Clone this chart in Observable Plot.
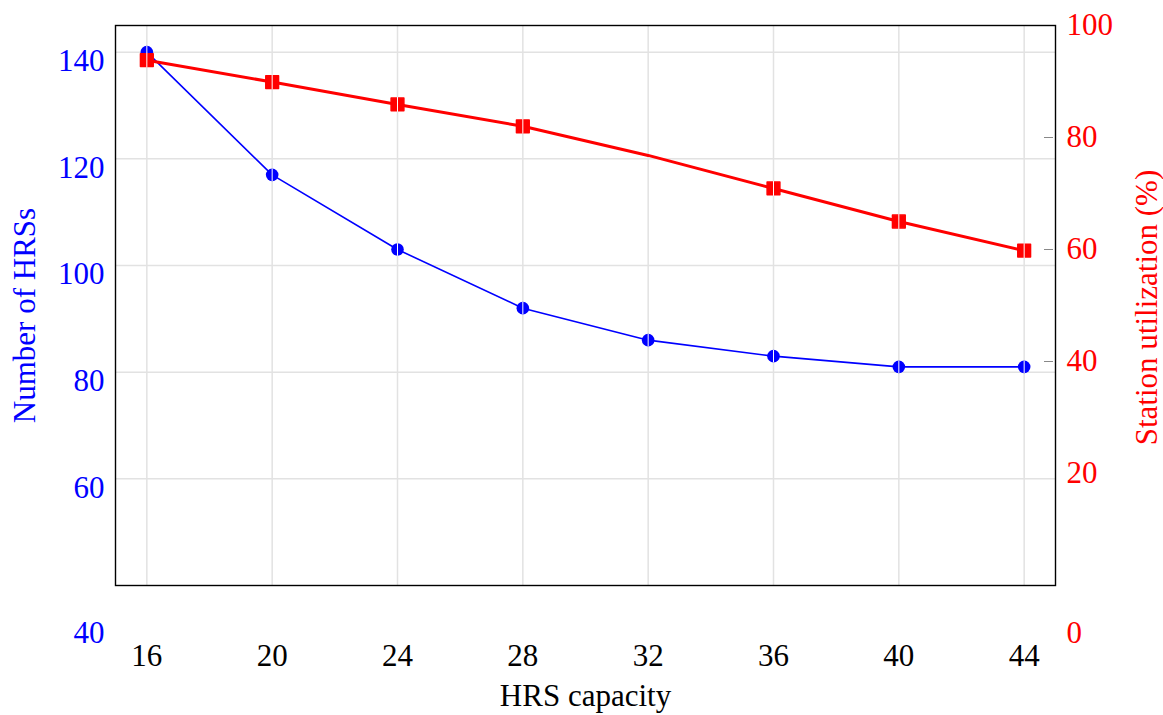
<!DOCTYPE html>
<html><head><meta charset="utf-8">
<script src="https://cdn.jsdelivr.net/npm/d3@7"></script>
<script src="https://cdn.jsdelivr.net/npm/@observablehq/plot@0.6"></script>
<style>body{margin:0;background:#fff} svg{display:block}</style>
</head><body><div id="chart"></div>
<script>
// ---- data ----
const capacity = [16, 20, 24, 28, 32, 36, 40, 44];
const hrsCount = [140, 117, 103, 92, 86, 83, 81, 81];
const utilization = [93.8, 89.9, 85.9, 82.0, 76.8, 70.9, 65.0, 59.8];
const utilNoMarker = [32];
const xTicks = [16, 20, 24, 28, 32, 36, 40, 44];
const leftTicks = [60, 80, 100, 120, 140];
const leftBottomTick = [40];
const rightTicks = [20, 40, 60, 80, 100];
const rightBottomTick = [0];
const rightMinorTicks = [40, 60, 80];
const xTitle = "HRS capacity";
const leftTitle = "Number of HRSs";
const rightTitle = "Station utilization (%)";

// ---- dual axis mapping ----
const leftDomain = [40, 145];
const rightDomain = [0, 100];
const k = (leftDomain[1] - leftDomain[0]) / (rightDomain[1] - rightDomain[0]);
const toLeft = v => leftDomain[0] + (v - rightDomain[0]) * k;
const fromLeft = v => rightDomain[0] + (v - leftDomain[0]) / k;

const hrsData = capacity.map((c, i) => ({c, v: hrsCount[i]}));
const utilData = capacity.map((c, i) => ({c, v: toLeft(utilization[i]), u: utilization[i]}));
const utilMarkers = utilData.filter(d => !utilNoMarker.includes(d.c));

const font = "Liberation Serif, Times New Roman, serif";
const fs = 31;
const vbar = {draw(ctx, size) { const h = Math.sqrt(size / Math.PI); ctx.moveTo(0, -h); ctx.lineTo(0, h); }};
const BLUE = "#0000ff", RED = "#ff0000";

const chart = Plot.plot({
  width: 1163, height: 715,
  marginLeft: 115, marginRight: 108, marginTop: 25, marginBottom: 130,
  style: {fontFamily: font, fontSize: fs + "px", background: "white"},
  x: {domain: [15, 45]},
  y: {domain: leftDomain},
  marks: [
    Plot.gridX(xTicks, {stroke: "#e2e2e2", strokeOpacity: 1, strokeWidth: 1.5}),
    Plot.gridY(leftTicks, {stroke: "#e2e2e2", strokeOpacity: 1, strokeWidth: 1.5}),
    Plot.axisY(rightMinorTicks.map(toLeft), {anchor: "right", tickSize: -9, dx: -3, stroke: "#888", tickFormat: () => "", label: null}),
    Plot.frame({stroke: "black", strokeWidth: 1.4}),
    Plot.axisX(xTicks, {tickSize: 0, tickPadding: 58, fill: "black", fontSize: fs, fontFamily: font, label: null}),
    Plot.axisY(leftTicks, {anchor: "left", tickSize: 0, tickPadding: 11, dy: 9, fill: BLUE, fontSize: fs, fontFamily: font, label: null}),
    Plot.axisY(leftBottomTick, {anchor: "left", tickSize: 0, tickPadding: 11, dy: 48, fill: BLUE, fontSize: fs, fontFamily: font, label: null}),
    Plot.axisY(rightTicks.map(toLeft), {anchor: "right", tickSize: 0, tickPadding: 11, fill: RED, fontSize: fs, fontFamily: font, tickFormat: d => String(Math.round(fromLeft(d))), label: null}),
    Plot.axisY(rightBottomTick.map(toLeft), {anchor: "right", tickSize: 0, tickPadding: 11, dy: 48, fill: RED, fontSize: fs, fontFamily: font, tickFormat: d => String(Math.round(fromLeft(d))), label: null}),
    Plot.line(hrsData, {x: "c", y: "v", stroke: BLUE, strokeWidth: 1.6}),
    Plot.dot(hrsData, {x: "c", y: "v", r: 6.3, fill: BLUE}),
    Plot.dot(hrsData, {x: "c", y: "v", r: 6.3, symbol: vbar, stroke: "white", strokeWidth: 1}),
    Plot.line(utilData, {x: "c", y: "v", stroke: RED, strokeWidth: 3}),
    Plot.dot(utilMarkers, {x: "c", y: "v", r: 7.2, symbol: "square", fill: RED, stroke: RED, strokeWidth: 1.5, strokeLinejoin: "round"}),
    Plot.dot(utilMarkers, {x: "c", y: "v", r: 7.4, symbol: vbar, stroke: "white", strokeWidth: 1}),
    Plot.text([xTitle], {frameAnchor: "bottom", textAnchor: "middle", dy: 120, fill: "black", fontSize: fs, fontFamily: font}),
    Plot.text([leftTitle], {frameAnchor: "left", textAnchor: "middle", rotate: -90, dx: -90, dy: 10, fill: BLUE, fontSize: fs, fontFamily: font}),
    Plot.text([rightTitle], {frameAnchor: "right", textAnchor: "middle", rotate: -90, dx: 92, dy: 2, fill: RED, fontSize: fs, fontFamily: font})
  ]
});
document.getElementById("chart").appendChild(chart);
</script>
</body></html>
